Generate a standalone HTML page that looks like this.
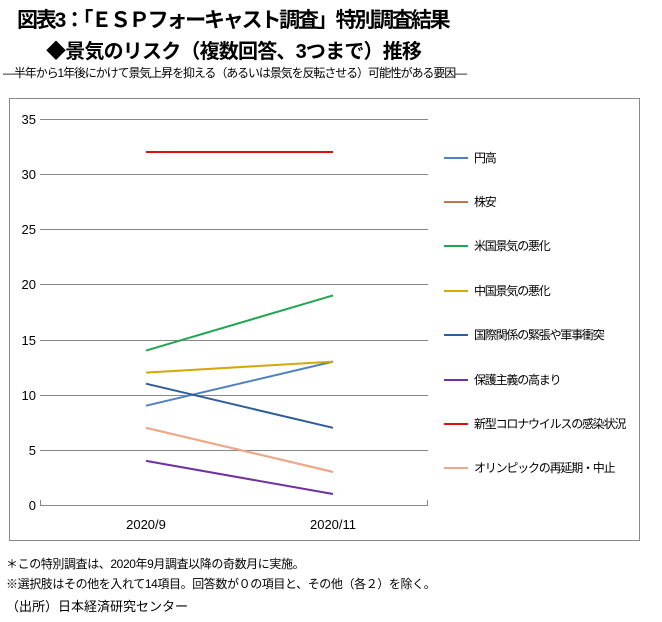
<!DOCTYPE html>
<html><head><meta charset="utf-8"><style>
body{margin:0;width:662px;height:622px;background:#fff;font-family:"Liberation Sans","Noto Sans CJK JP",sans-serif;position:relative;overflow:hidden}
.t{position:absolute;white-space:nowrap;color:#000}
</style></head><body>
<div class="t" style="left:17px;top:4px;font-size:21px;font-weight:bold;letter-spacing:-2.2px">図表3：「ＥＳＰフォーキャスト調査」特別調査結果</div>
<div class="t" style="left:46px;top:35px;font-size:20px;font-weight:bold;letter-spacing:-0.8px">◆景気のリスク（複数回答、3つまで）推移</div>
<div class="t" style="left:3px;top:64px;font-size:12px;letter-spacing:-1.1px">―半年から1年後にかけて景気上昇を抑える（あるいは景気を反転させる）可能性がある要因―</div>
<svg style="position:absolute;left:0;top:0" width="662" height="622">
<rect x="9.5" y="98.5" width="630" height="442" fill="#fff" stroke="#888"/>
<g stroke="#888" stroke-width="1">
<line x1="40" y1="119.5" x2="428" y2="119.5"/><line x1="40" y1="174.5" x2="428" y2="174.5"/>
<line x1="40" y1="229.5" x2="428" y2="229.5"/><line x1="40" y1="284.5" x2="428" y2="284.5"/>
<line x1="40" y1="340.5" x2="428" y2="340.5"/><line x1="40" y1="395.5" x2="428" y2="395.5"/>
<line x1="40" y1="450.5" x2="428" y2="450.5"/><line x1="40" y1="505.5" x2="428" y2="505.5"/>
<line x1="40.5" y1="505" x2="40.5" y2="500"/><line x1="427.5" y1="505" x2="427.5" y2="500"/>
</g>
<g font-size="13" fill="#000" text-anchor="end" font-family="Liberation Sans,sans-serif">
<text x="36" y="124">35</text><text x="36" y="179">30</text><text x="36" y="234">25</text><text x="36" y="289">20</text>
<text x="36" y="345">15</text><text x="36" y="400">10</text><text x="36" y="455">5</text><text x="36" y="510">0</text>
</g>
<g font-size="13" fill="#000" text-anchor="middle"><text x="146" y="529">2020/9</text><text x="333" y="529">2020/11</text></g>
<g stroke-width="2" fill="none">
<line x1="146" y1="405.7" x2="333" y2="361.6" stroke="#4f81bd"/>
<line x1="146" y1="427.8" x2="333" y2="471.9" stroke="#c0764a"/>
<line x1="146" y1="350.6" x2="333" y2="295.4" stroke="#1fa64f"/>
<line x1="146" y1="372.6" x2="333" y2="361.6" stroke="#d4a80a"/>
<line x1="146" y1="383.7" x2="333" y2="427.8" stroke="#2e5e98"/>
<line x1="146" y1="460.9" x2="333" y2="494" stroke="#7030a0"/>
<line x1="146" y1="152" x2="333" y2="152" stroke="#e01010"/>
<line x1="146" y1="427.8" x2="333" y2="471.9" stroke="#f0a88a"/>
</g>
<g stroke-width="2">
<line x1="444" y1="158" x2="468" y2="158" stroke="#4f81bd"/>
<line x1="444" y1="202" x2="468" y2="202" stroke="#c0764a"/>
<line x1="444" y1="246" x2="468" y2="246" stroke="#1fa64f"/>
<line x1="444" y1="291" x2="468" y2="291" stroke="#d4a80a"/>
<line x1="444" y1="335" x2="468" y2="335" stroke="#2e5e98"/>
<line x1="444" y1="380" x2="468" y2="380" stroke="#7030a0"/>
<line x1="444" y1="424" x2="468" y2="424" stroke="#e01010"/>
<line x1="444" y1="468" x2="468" y2="468" stroke="#f0a88a"/>
</g>
<g font-size="12" fill="#000" font-family="Liberation Sans,Noto Sans CJK JP,sans-serif" letter-spacing="-1.2">
<text x="474" y="162">円高</text><text x="474" y="206">株安</text><text x="474" y="250">米国景気の悪化</text>
<text x="474" y="295">中国景気の悪化</text><text x="474" y="339">国際関係の緊張や軍事衝突</text>
<text x="474" y="384">保護主義の高まり</text><text x="474" y="428">新型コロナウイルスの感染状況</text>
<text x="474" y="472">オリンピックの再延期・中止</text>
</g>
</svg>
<div class="t" style="left:6px;top:555px;font-size:12px;letter-spacing:-0.4px">＊この特別調査は、2020年9月調査以降の奇数月に実施。</div>
<div class="t" style="left:6px;top:575px;font-size:12px;letter-spacing:-0.4px">※選択肢はその他を入れて14項目。回答数が０の項目と、その他（各２）を除く。</div>
<div class="t" style="left:6px;top:596px;font-size:13px">（出所）日本経済研究センター</div>
</body></html>
